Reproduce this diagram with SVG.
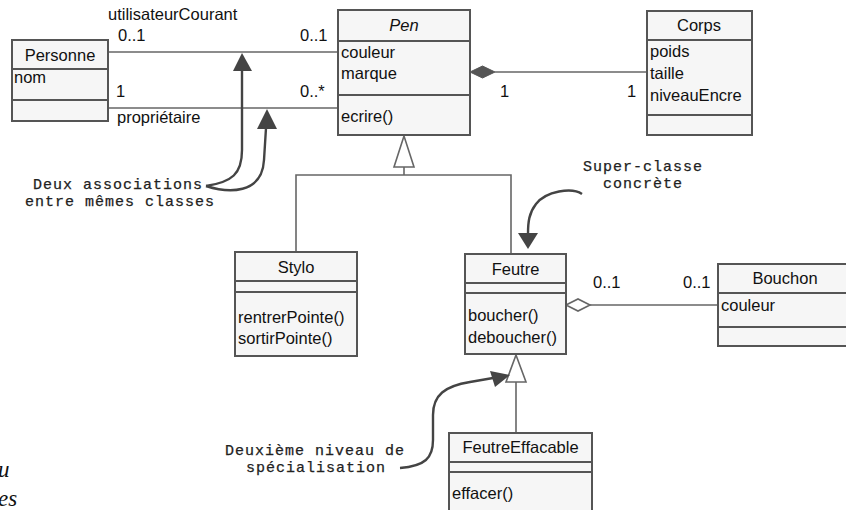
<svg xmlns="http://www.w3.org/2000/svg" width="846" height="510" viewBox="0 0 846 510">
<style>
.box{fill:#f6f6f6;stroke:#555;stroke-width:2}
.div{stroke:#555;stroke-width:2}
.t{font-family:"Liberation Sans",Arial,sans-serif;font-size:16.5px;fill:#111}
.c{text-anchor:middle}
.i{font-style:italic}
.ln{fill:none;stroke:#666;stroke-width:1.6}
.note{font-family:"Liberation Mono","Courier New",monospace;font-size:15px;letter-spacing:1px;fill:#222;stroke:#222;stroke-width:0.25}
.cv{fill:none;stroke:#444;stroke-width:2.4}
.ah{fill:#444;stroke:none}
.ser{font-family:"Liberation Serif","Times New Roman",serif;font-style:italic;font-size:23px;fill:#111}
</style>
<rect width="846" height="510" fill="#ffffff"/>

<g id="connectors">
  <line class="ln" x1="108" y1="52" x2="338" y2="52"/>
  <line class="ln" x1="108" y1="108" x2="338" y2="108"/>
  <line class="ln" x1="495" y1="72" x2="647" y2="72"/>
  <polygon points="470,72 482.5,66 495,72 482.5,78" fill="#555" stroke="#555" stroke-width="1"/>
  <polyline class="ln" points="404,167 404,175"/>
  <polyline class="ln" points="296,252 296,175 511,175 511,254"/>
  <polygon points="404,136 394,167 414,167" fill="#fff" stroke="#666" stroke-width="1.6"/>
  <line class="ln" x1="590" y1="305" x2="718" y2="305"/>
  <polygon points="566,305 578,299 590,305 578,311" fill="#fff" stroke="#666" stroke-width="1.6"/>
  <line class="ln" x1="516" y1="382" x2="516" y2="433"/>
  <polygon points="516,355 506,382 526,382" fill="#fff" stroke="#666" stroke-width="1.6"/>
  <text class="t" x="108" y="20">utilisateurCourant</text>
  <text class="t" x="118" y="41">0..1</text>
  <text class="t" x="300" y="41">0..1</text>
  <text class="t" x="116" y="97">1</text>
  <text class="t" x="300" y="97">0..*</text>
  <text class="t" x="117" y="123">propriétaire</text>
  <text class="t" x="500" y="97">1</text>
  <text class="t" x="627" y="97">1</text>
  <text class="t" x="593" y="288">0..1</text>
  <text class="t" x="683" y="288">0..1</text>
</g>

<g id="Personne">
  <rect class="box" x="12" y="40" width="96" height="81"/>
  <line class="div" x1="12" y1="69" x2="108" y2="69"/>
  <line class="div" x1="12" y1="100" x2="108" y2="100"/>
  <text class="t c" x="60" y="61">Personne</text>
  <text class="t" x="14" y="83">nom</text>
</g>

<g id="Pen">
  <rect class="box" x="338" y="10" width="132" height="125"/>
  <line class="div" x1="338" y1="41" x2="470" y2="41"/>
  <line class="div" x1="338" y1="95" x2="470" y2="95"/>
  <text class="t c i" x="404" y="31">Pen</text>
  <text class="t" x="341" y="58">couleur</text>
  <text class="t" x="341" y="79">marque</text>
  <text class="t" x="341" y="122">ecrire()</text>
</g>

<g id="Corps">
  <rect class="box" x="647" y="11" width="105" height="124"/>
  <line class="div" x1="647" y1="40" x2="752" y2="40"/>
  <line class="div" x1="647" y1="115" x2="752" y2="115"/>
  <text class="t c" x="699" y="31">Corps</text>
  <text class="t" x="650" y="57">poids</text>
  <text class="t" x="650" y="79">taille</text>
  <text class="t" x="650" y="101">niveauEncre</text>
</g>

<g id="Stylo">
  <rect class="box" x="235" y="252" width="122" height="104"/>
  <line class="div" x1="235" y1="281" x2="357" y2="281"/>
  <line class="div" x1="235" y1="292" x2="357" y2="292"/>
  <text class="t c" x="296" y="273">Stylo</text>
  <text class="t" x="238" y="323">rentrerPointe()</text>
  <text class="t" x="238" y="344">sortirPointe()</text>
</g>

<g id="Feutre">
  <rect class="box" x="465" y="254" width="101" height="100"/>
  <line class="div" x1="465" y1="283" x2="566" y2="283"/>
  <line class="div" x1="465" y1="293" x2="566" y2="293"/>
  <text class="t c" x="515.5" y="275">Feutre</text>
  <text class="t" x="468" y="321">boucher()</text>
  <text class="t" x="468" y="343">deboucher()</text>
</g>

<g id="Bouchon">
  <rect class="box" x="718" y="264" width="134" height="82"/>
  <line class="div" x1="718" y1="293" x2="852" y2="293"/>
  <line class="div" x1="718" y1="327" x2="852" y2="327"/>
  <text class="t c" x="785" y="284">Bouchon</text>
  <text class="t" x="721" y="311">couleur</text>
</g>

<g id="FeutreEffacable">
  <rect class="box" x="449" y="433" width="143" height="90"/>
  <line class="div" x1="449" y1="462" x2="592" y2="462"/>
  <line class="div" x1="449" y1="472" x2="592" y2="472"/>
  <text class="t c" x="520.5" y="453">FeutreEffacable</text>
  <text class="t" x="452" y="499">effacer()</text>
</g>

<g id="note-associations">
  <text class="note" x="33" y="189">Deux associations</text>
  <text class="note" x="25" y="206">entre mêmes classes</text>
  <path class="cv" d="M206,186 C232,182 242,174 242,150 L242,70"/>
  <path class="cv" d="M206,186 C228,193 262,195 264,160 L266,128"/>
  <polygon class="ah" points="242,53 233,71 252,71"/>
  <polygon class="ah" points="267,109 257,129 277,129"/>
</g>

<g id="note-superclasse">
  <text class="note" x="583" y="171">Super-classe</text>
  <text class="note" x="603" y="188">concrète</text>
  <path class="cv" d="M582,194 C572,187 546,191 536,204 C529,213 528,222 528,234"/>
  <polygon class="ah" points="528,249 518,233 538,233"/>
</g>

<g id="note-niveau">
  <text class="note" x="225" y="455">Deuxième niveau de</text>
  <text class="note" x="246" y="472">spécialisation</text>
  <path class="cv" d="M400,468 C425,466 433,458 433,440 L433,415 C433,395 445,386 470,382 L493,378"/>
  <polygon class="ah" points="510,375 490,371 495,387"/>
</g>

<g id="fragments">
  <text class="ser" x="-2" y="477">u</text>
  <text class="ser" x="-2" y="506">es</text>
</g>
</svg>
